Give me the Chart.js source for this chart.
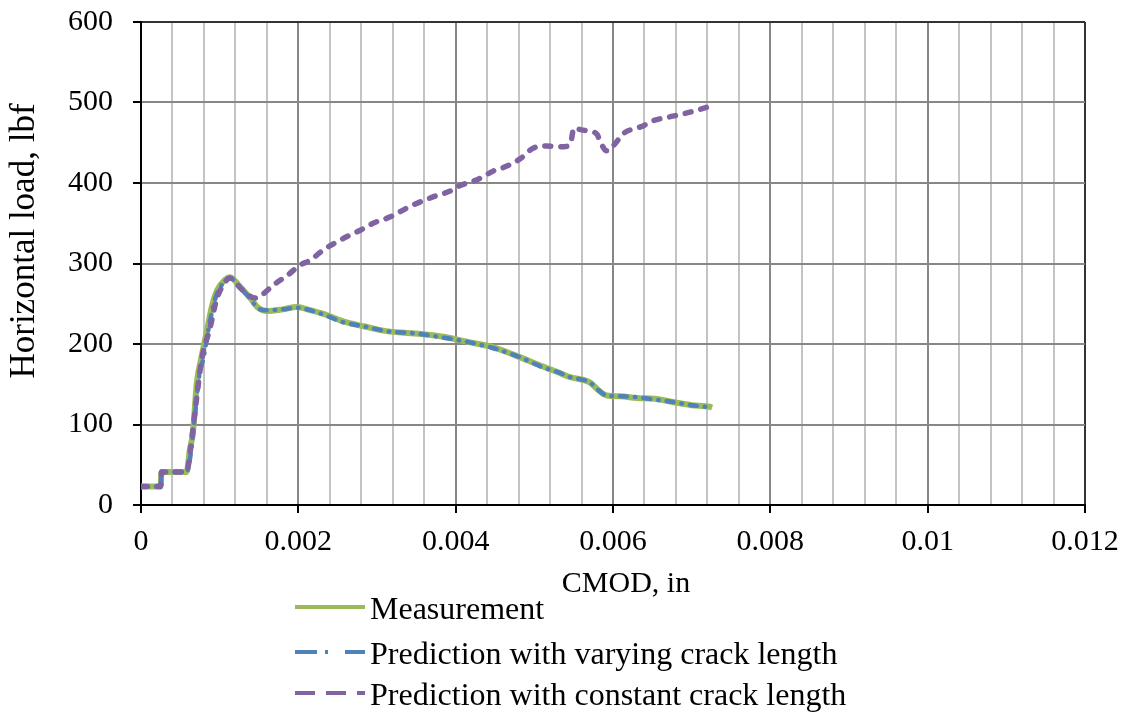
<!DOCTYPE html>
<html>
<head>
<meta charset="utf-8">
<script src="https://cdn.jsdelivr.net/npm/chart.js@4.4.0/dist/chart.umd.min.js"></script>
<style>
  body { margin: 0; background: #fff; }
  #wrap { width: 1130px; height: 712px; }
</style>
</head>
<body>
<div id="wrap"><canvas id="loadChart" width="1130" height="712"></canvas></div>
<script>
// Measured load vs CMOD
const measCmod = [0, 0.00025, 0.00026, 0.00058, 0.00062, 0.00066, 0.00071, 0.00077, 0.00084, 0.0009, 0.00097, 0.00107, 0.00113,
  0.00126, 0.00139, 0.00149, 0.0016, 0.0018, 0.00198, 0.00215, 0.00236, 0.00257, 0.00283, 0.00312, 0.0035, 0.00384,
  0.00418, 0.00444, 0.00478, 0.00511, 0.0053, 0.00545, 0.00571, 0.00581, 0.00592, 0.00609, 0.0063, 0.00653, 0.00676,
  0.007, 0.00723, 0.00726];
const measLoad = [23, 23, 41, 41, 68, 90, 152, 184, 217, 246, 267, 280, 283,
  271, 257, 245, 241, 243, 246, 242, 236, 228, 222, 216, 213, 209,
  202, 197, 185, 172, 165, 159, 152, 143, 136, 135, 133, 132, 128,
  124, 122, 121];

// Prediction with varying crack length
const varyCmod = [0, 0.00025, 0.00026, 0.00058, 0.00063, 0.00068, 0.00074, 0.0008, 0.00087, 0.00094, 0.00103, 0.00113,
  0.00126, 0.00139, 0.00149, 0.0016, 0.0018, 0.00198, 0.00215, 0.00236, 0.00257, 0.00283, 0.00312, 0.0035, 0.00384,
  0.00418, 0.00444, 0.00478, 0.00511, 0.0053, 0.00545, 0.00571, 0.00581, 0.00592, 0.00609, 0.0063, 0.00653, 0.00676,
  0.007, 0.00726];
const varyLoad = [23, 23, 41, 41, 62, 105, 160, 185, 225, 255, 274, 282,
  270, 256, 244, 242, 243, 245, 242, 235, 227, 222, 216, 213, 208,
  202, 196, 185, 171, 165, 159, 152, 143, 136, 135, 134, 131, 128,
  124, 121];

// Prediction with constant crack length
const constCmod = [0, 0.00025, 0.00026, 0.00058, 0.0006, 0.00062, 0.00071, 0.00077, 0.00088, 0.00096, 0.00107, 0.00113,
  0.00126, 0.00136, 0.00145, 0.00151, 0.00168, 0.00187, 0.00202, 0.00215, 0.00232, 0.00257, 0.0028, 0.00295, 0.00317,
  0.00342, 0.00372, 0.00393, 0.00406, 0.00427, 0.00448, 0.00465, 0.00482, 0.00498, 0.00516, 0.00533, 0.00543, 0.00547,
  0.0055, 0.0056, 0.00571, 0.0058, 0.00583, 0.00592, 0.00601, 0.00614, 0.00629, 0.00636, 0.0065, 0.00676, 0.00698, 0.00726];
const constLoad = [23, 23, 41, 41, 48, 62, 135, 180, 221, 255, 277, 282,
  270, 261, 257, 259, 273, 286, 298, 304, 317, 331, 342, 350, 358,
  371, 383, 390, 397, 404, 415, 421, 430, 443, 446, 445, 446, 453,
  468, 466, 464, 460, 453, 440, 447, 462, 468, 470, 477, 483, 488, 496];

const xTickMajor = [0, 0.002, 0.004, 0.006, 0.008, 0.01, 0.012];
const yTicks = [0, 100, 200, 300, 400, 500, 600];

const seriesNames = ['Measurement', 'Prediction with varying crack length', 'Prediction with constant crack length'];

const serif = '"Liberation Serif", "Times New Roman", serif';

function toPoints(xs, ys) {
  return xs.map((x, i) => ({ x: x, y: ys[i] }));
}

function isMajor(v) {
  return xTickMajor.some(m => Math.abs(m - v) < 1e-9);
}

// legend + axis titles, drawn by hand so they sit where the original has them
const extrasPlugin = {
  id: 'extras',
  afterDraw(chart) {
    const ctx = chart.ctx;
    ctx.save();
    ctx.fillStyle = '#000';

    ctx.font = '30px ' + serif;
    ctx.textAlign = 'center';
    ctx.textBaseline = 'alphabetic';
    ctx.fillText('CMOD, in', 626, 592);

    ctx.save();
    ctx.translate(34, 241);
    ctx.rotate(-Math.PI / 2);
    ctx.font = '35px ' + serif;
    ctx.fillText('Horizontal load, lbf', 0, 0);
    ctx.restore();

    const rows = [607, 652, 693];
    const dashes = [[], [22, 8, 3, 17], [20, 11]];
    chart.data.datasets.forEach((ds, i) => {
      ctx.beginPath();
      ctx.setLineDash(dashes[i]);
      ctx.lineWidth = 4;
      ctx.strokeStyle = ds.borderColor;
      ctx.moveTo(295, rows[i]);
      ctx.lineTo(365, rows[i]);
      ctx.stroke();
      ctx.setLineDash([]);
      ctx.font = '32px ' + serif;
      ctx.textAlign = 'left';
      ctx.fillText(ds.label, 370, rows[i] + 12);
    });
    ctx.restore();
  }
};

const ctx = document.getElementById('loadChart').getContext('2d');
new Chart(ctx, {
  type: 'line',
  data: {
    datasets: [
      {
        label: seriesNames[0],
        data: toPoints(measCmod, measLoad),
        borderColor: '#9BBB59',
        borderWidth: 6,
        borderJoinStyle: 'round',
        cubicInterpolationMode: 'monotone',
        pointRadius: 0,
        order: 3
      },
      {
        label: seriesNames[1],
        data: toPoints(varyCmod, varyLoad),
        borderColor: '#4F81BD',
        borderWidth: 4.5,
        borderDash: [7, 8, 0.5, 8],
        borderCapStyle: 'round',
        borderJoinStyle: 'round',
        cubicInterpolationMode: 'monotone',
        pointRadius: 0,
        order: 2
      },
      {
        label: seriesNames[2],
        data: toPoints(constCmod, constLoad),
        borderColor: '#8064A2',
        borderWidth: 5.5,
        borderDash: [6, 10],
        borderCapStyle: 'round',
        borderJoinStyle: 'round',
        cubicInterpolationMode: 'monotone',
        pointRadius: 0,
        order: 1
      }
    ]
  },
  options: {
    responsive: false,
    animation: false,
    layout: { padding: { left: 0, right: 45, top: 22, bottom: 0 } },
    plugins: {
      legend: { display: false },
      tooltip: { enabled: false }
    },
    scales: {
      x: {
        type: 'linear',
        min: 0,
        max: 0.012,
        afterFit: s => { s.height = 207; s.paddingLeft = 0; s.paddingRight = 0; },
        ticks: {
          stepSize: 0.0004,
          autoSkip: false,
          maxRotation: 0,
          padding: 11,
          color: '#000',
          font: { family: serif, size: 30, lineHeight: 1.2 },
          callback: v => isMajor(v) ? String(+v.toFixed(4)) : ''
        },
        grid: {
          color: c => {
            const v = c.tick ? c.tick.value : 0;
            if (Math.abs(v - 0.012) < 1e-9) return '#333';
            return isMajor(v) ? '#878787' : '#c4c4c4';
          },
          lineWidth: 2,
          tickLength: 8,
          tickWidth: 2,
          tickColor: c => (c.tick && isMajor(c.tick.value)) ? '#000' : 'rgba(0,0,0,0)'
        },
        border: { color: '#000', width: 2 }
      },
      y: {
        min: 0,
        max: 600,
        afterFit: s => { s.width = 141; s.paddingTop = 0; s.paddingBottom = 0; },
        afterBuildTicks: s => { s.ticks = yTicks.map(v => ({ value: v })); },
        ticks: {
          padding: 20,
          color: '#000',
          font: { family: serif, size: 30, lineHeight: 1.2 }
        },
        grid: {
          color: c => (c.tick && c.tick.value === 600) ? '#333' : '#878787',
          lineWidth: 2,
          tickLength: 8,
          tickWidth: 2,
          tickColor: '#000'
        },
        border: { color: '#000', width: 2 }
      }
    }
  },
  plugins: [extrasPlugin]
});
</script>
</body>
</html>
